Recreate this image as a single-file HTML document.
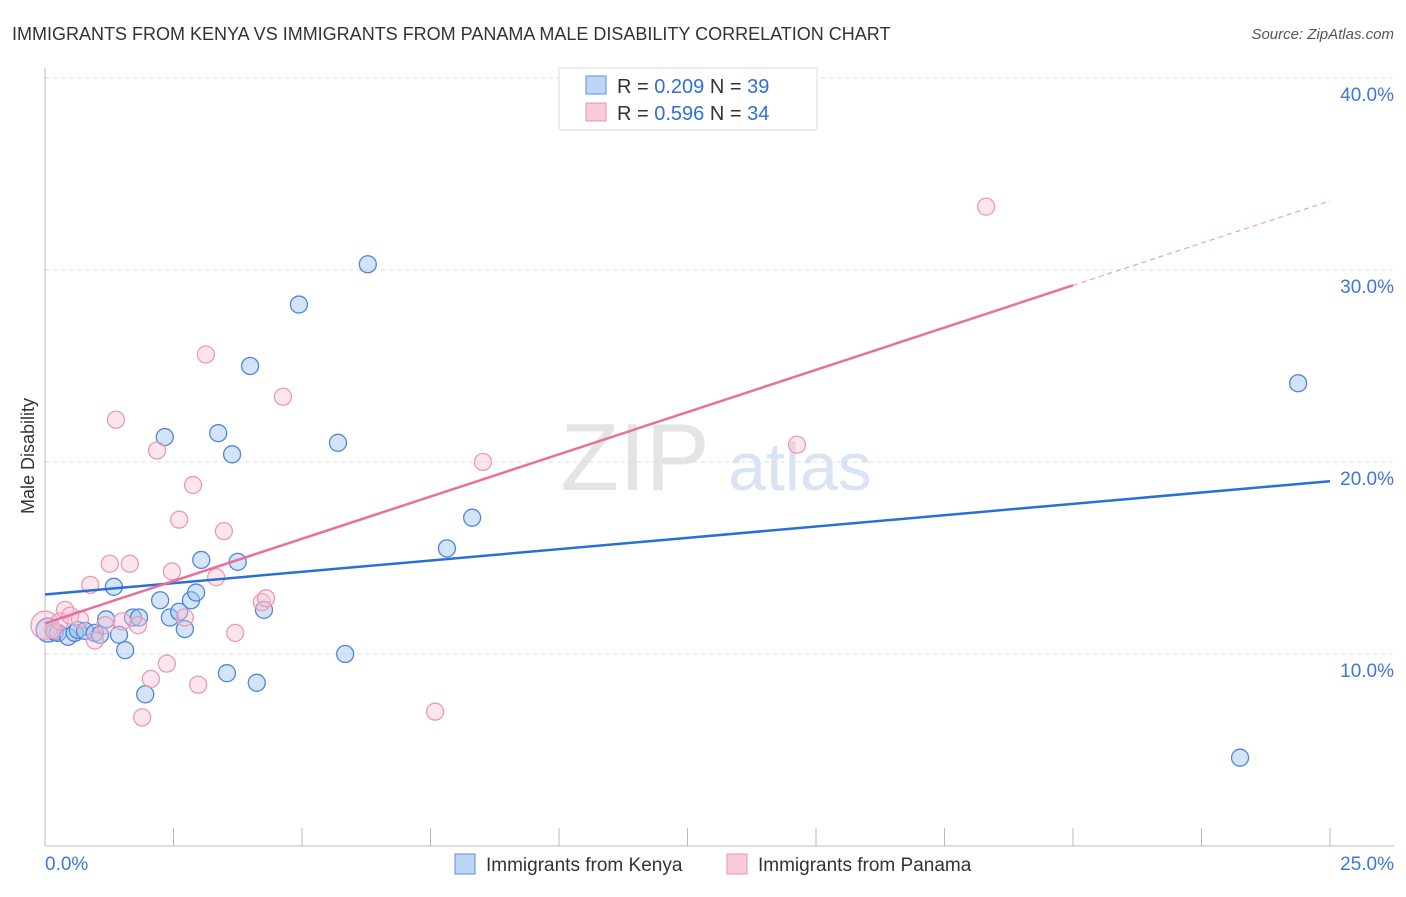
<!DOCTYPE html>
<html><head><meta charset="utf-8"><style>
body{margin:0;background:#fff;font-family:"Liberation Sans",sans-serif;}
svg text{font-family:"Liberation Sans",sans-serif;}
</style></head><body>
<svg width="1406" height="892" id="chart">
<text x="12" y="40" font-size="18" fill="#333">IMMIGRANTS FROM KENYA VS IMMIGRANTS FROM PANAMA MALE DISABILITY CORRELATION CHART</text>
<text x="1394" y="39" font-size="15" fill="#555" text-anchor="end" font-style="italic">Source: ZipAtlas.com</text>
<text x="635" y="490" font-size="96" fill="#e4e4e4" text-anchor="middle" font-family="Liberation Serif">ZIP</text>
<text x="800" y="490" font-size="68" fill="#d8e4f3" text-anchor="middle">atlas</text>
<g id="grid"></g><g id="axes"></g><g id="marks"></g>
<text x="34" y="456" font-size="18" fill="#333" text-anchor="middle" transform="rotate(-90 34 456)">Male Disability</text>
<g>
<rect x="559" y="68" width="258" height="62" fill="#fff" stroke="#ddd"/>
<rect x="586" y="76" width="20" height="18" fill="#bcd5f5" stroke="#5b8fd9"/>
<rect x="586" y="103" width="20" height="18" fill="#f9cbd9" stroke="#e893b0"/>
<text x="617" y="93" font-size="20" fill="#333">R = <tspan fill="#2f6fd6">0.209</tspan>   N = <tspan fill="#2f6fd6">39</tspan></text>
<text x="617" y="120" font-size="20" fill="#333">R = <tspan fill="#2f6fd6"> 0.596</tspan>   N = <tspan fill="#2f6fd6">34</tspan></text>
</g>
<g>
<rect x="455" y="854" width="20" height="20" fill="#bcd5f5" stroke="#5b8fd9"/>
<text x="486" y="871" font-size="19" fill="#333">Immigrants from Kenya</text>
<rect x="727" y="854" width="20" height="20" fill="#f9cbd9" stroke="#e893b0"/>
<text x="758" y="871" font-size="19" fill="#333">Immigrants from Panama</text>
</g>
</svg>
<script>
const kenyaX=[0.06,0.19,0.25,0.45,0.58,0.64,0.78,0.97,1.07,1.19,1.34,1.44,1.56,1.71,1.83,1.95,2.24,2.33,2.43,2.61,2.72,2.84,2.94,3.04,3.37,3.54,3.64,3.75,3.99,4.12,4.26,4.94,5.70,5.84,6.28,7.82,8.31,23.25,24.38];
const kenyaY=[11.25,11.15,11.1,10.9,11.1,11.25,11.2,11.1,11.0,11.8,13.5,11.0,10.2,11.9,11.9,7.9,12.8,21.3,11.9,12.2,11.3,12.8,13.2,14.9,21.5,9.0,20.4,14.8,25.0,8.5,12.3,28.2,21.0,10.0,30.3,15.5,17.1,4.6,24.1];
const panamaX=[0,0.16,0.29,0.39,0.49,0.68,0.88,0.97,1.17,1.26,1.38,1.50,1.65,1.81,1.89,2.06,2.18,2.37,2.47,2.61,2.72,2.88,2.98,3.13,3.33,3.48,3.70,4.22,4.30,4.63,7.59,8.52,14.63,18.31];
const panamaY=[11.5,11.25,11.7,12.3,12.0,11.8,13.6,10.7,11.5,14.7,22.2,11.7,14.7,11.5,6.7,8.7,20.6,9.5,14.3,17.0,11.9,18.8,8.4,25.6,14.0,16.4,11.1,12.7,12.9,23.4,7.0,20.0,20.9,33.3];
const kenyaTrend=[13.1,19.0];
const panamaTrend=[11.6,33.6];
const yTicks=[10,20,30,40];
const xTickLabels=["0.0%","25.0%"];
const NS="http://www.w3.org/2000/svg";
const X=v=>45+v*51.4, Y=v=>846-v*19.2;
function mk(tag,attrs,parent){const e=document.createElementNS(NS,tag);for(const k in attrs)e.setAttribute(k,attrs[k]);document.getElementById(parent).appendChild(e);return e;}
yTicks.forEach(t=>{
 const l=mk('line',{x1:45,x2:1394,y1:Y(t),y2:Y(t),stroke:'#ddd','stroke-dasharray':'4,4'},'grid');
 
 
 const tx=mk('text',{x:1394,y:Y(t)+23,'font-size':19,fill:'#3b78d8','text-anchor':'end'},'grid');
 tx.textContent=t.toFixed(1)+'%';
 
 
});
const ax=mk('line',{x1:45,x2:45,y1:68,y2:846,stroke:'#bbb'},'axes');


const bx=mk('line',{x1:45,x2:1394,y1:846,y2:846,stroke:'#bbb'},'axes');


for(let i=1;i<=10;i++){const t=mk('line',{x1:X(i*2.5),x2:X(i*2.5),y1:828,y2:846,stroke:'#bbb'},'axes');
 
 }
const l0=mk('text',{x:45,y:870,'font-size':19,fill:'#3b78d8'},'axes');l0.textContent=xTickLabels[0];


const l1=mk('text',{x:1394,y:870,'font-size':19,fill:'#3b78d8','text-anchor':'end'},'axes');l1.textContent=xTickLabels[1];


kenyaX.forEach((x,i)=>{const c=mk('circle',{cx:X(x),cy:Y(kenyaY[i]),r:i==0?12:8.5,fill:'rgba(160,195,240,0.45)',stroke:'#4f86d6','stroke-width':1.3},'marks');
 
 });
panamaX.forEach((x,i)=>{const c=mk('circle',{cx:X(x),cy:Y(panamaY[i]),r:i==0?14:8.5,fill:'rgba(248,190,210,0.4)',stroke:'#eb9ab5','stroke-width':1.3},'marks');
 
 });
const kl=mk('line',{x1:X(0),y1:Y(kenyaTrend[0]),x2:X(25),y2:Y(kenyaTrend[1]),stroke:'#2a6fd6','stroke-width':2.5},'marks');


const pv=x=>panamaTrend[0]+(panamaTrend[1]-panamaTrend[0])*x/25;
const pl=mk('line',{x1:X(0),y1:Y(pv(0)),x2:X(20),y2:Y(pv(20)),stroke:'#e8709a','stroke-width':2.5},'marks');


const pd=mk('line',{x1:X(20),y1:Y(pv(20)),x2:X(25),y2:Y(pv(25)),stroke:'#e8a0b8','stroke-width':1.2,'stroke-dasharray':'5,4'},'marks');


</script>
</body></html>
